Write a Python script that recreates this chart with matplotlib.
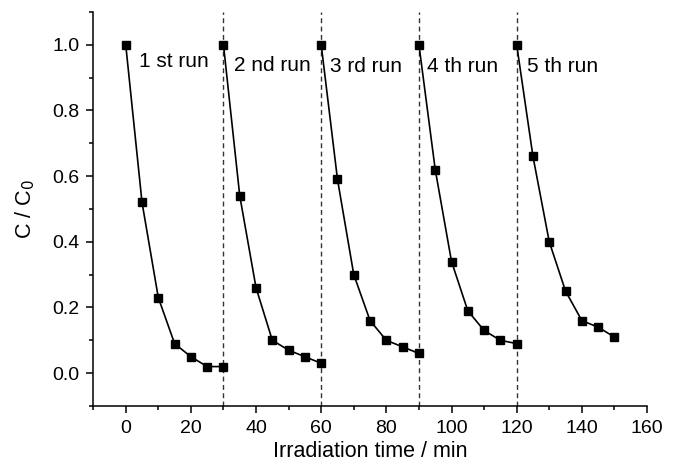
import matplotlib
matplotlib.use("Agg")
import matplotlib.pyplot as plt
from matplotlib.ticker import MultipleLocator, FormatStrFormatter

# cycle data: irradiation time (min) and C/C0 per run
run_times = [
    [0, 5, 10, 15, 20, 25, 30],
    [30, 35, 40, 45, 50, 55, 60],
    [60, 65, 70, 75, 80, 85, 90],
    [90, 95, 100, 105, 110, 115, 120],
    [120, 125, 130, 135, 140, 145, 150],
]
run_values = [
    [1.0, 0.52, 0.23, 0.09, 0.05, 0.02, 0.02],
    [1.0, 0.54, 0.26, 0.10, 0.07, 0.05, 0.03],
    [1.0, 0.59, 0.30, 0.16, 0.10, 0.08, 0.06],
    [1.0, 0.62, 0.34, 0.19, 0.13, 0.10, 0.09],
    [1.0, 0.66, 0.40, 0.25, 0.16, 0.14, 0.11],
]
run_labels = ["1 st run", "2 nd run", "3 rd run", "4 th run", "5 th run"]
run_starts = [30, 60, 90, 120]

plt.rcParams.update({
    "font.family": ["Liberation Sans", "DejaVu Sans"],
    "font.size": 14,
    "axes.linewidth": 1.1,
})

fig = plt.figure(figsize=(6.75, 4.68), dpi=100)
ax = fig.add_axes([0.138, 0.1325, 0.8205, 0.842])

for t in run_starts:
    ax.axvline(t, color="#333333", linestyle=(0, (3.5, 2.5)), linewidth=1.0, zorder=1)

for times, values in zip(run_times, run_values):
    ax.plot(times, values, color="black", linewidth=1.2, marker="s", markersize=6,
            markerfacecolor="black", zorder=3)

label_pos = [(4, 0.933), (33.1, 0.92), (62.8, 0.917), (92.6, 0.917), (123.2, 0.917)]
for text, (x, y) in zip(run_labels, label_pos):
    ax.text(x, y, text, fontsize=15, ha="left", va="baseline")

ax.set_xlim(-10, 160)
ax.set_ylim(-0.1, 1.1)
ax.set_xticks([0, 20, 40, 60, 80, 100, 120, 140, 160])
ax.set_yticks([0.0, 0.2, 0.4, 0.6, 0.8, 1.0])
ax.xaxis.set_minor_locator(MultipleLocator(10))
ax.yaxis.set_minor_locator(MultipleLocator(0.1))
ax.yaxis.set_major_formatter(FormatStrFormatter("%.1f"))
ax.tick_params(which="major", direction="out", length=5, width=1.1, pad=5, labelsize=14)
ax.tick_params(which="minor", direction="out", length=3, width=1.1)

ax.spines["top"].set_visible(False)
ax.spines["right"].set_visible(False)

ax.set_xlabel("Irradiation time / min", fontsize=15.5)
ax.set_ylabel("C / C$_0$", fontsize=15.5)
ax.xaxis.set_label_coords(0.5, -0.088)
ax.yaxis.set_label_coords(-0.101, 0.5)

fig.savefig("out.png", dpi=100)
